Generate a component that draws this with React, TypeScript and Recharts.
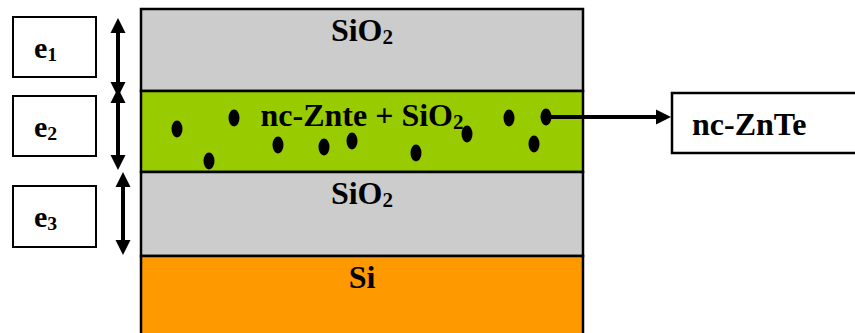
import { ComposedChart, XAxis, YAxis, ReferenceArea, ReferenceLine, Scatter } from 'recharts';

const W = 855;
const H = 333;

// layer stack, in diagram units (y grows downward, like the source figure)
const layerNames = ['SiO2', 'nc-Znte + SiO2', 'SiO2', 'Si'];
const layerTop = [9, 91, 172, 256];
const layerBottom = [91, 172, 256, 340];
const stackLeft = 141;
const stackRight = 583;

// thickness boxes e1..e3 on the left
const thickNames = ['e1', 'e2', 'e3'];
const thickTop = [17, 96, 186];
const thickBottom = [77, 156, 247];
const thickLeft = 13;
const thickRight = 96;

// double arrows next to the boxes
const arrowX = [118, 118, 123];
const arrowFrom = [18, 88, 172];
const arrowTo = [97, 170, 255];

// nanocrystals inside the green layer
const dotX = [177, 209, 234, 278, 324, 352, 416, 467, 509, 546, 534];
const dotY = [129, 161, 118, 145, 147, 141, 153, 134, 118, 117, 144];

// pointer to the nc-ZnTe label box (box runs off the right edge)
const pointerFrom = { x: 546, y: 117 };
const pointerTo = { x: 671, y: 117 };
const calloutName = 'nc-ZnTe';
const calloutBox = { x1: 672, x2: 862, y1: 93, y2: 153 };

const LAYER_COLORS = ['#cccccc', '#99cc00', '#cccccc', '#ff9900'];
const FONT = '"Liberation Serif", "Times New Roman", serif';

// renders "SiO2" style text with the digits as subscripts
function Formula({ x, y, text, size, anchor = 'middle' }: { x: number; y: number; text: string; size: number; anchor?: string }) {
  const parts = text.split(/(\d+)/).filter((s) => s.length > 0);
  let sub = false;
  return (
    <text x={x} y={y} textAnchor={anchor} style={{ fontFamily: FONT, fontWeight: 700, fontSize: size }} fill="#000">
      {parts.map((p, i) => {
        const isDigit = /^\d+$/.test(p);
        const dy = isDigit ? (sub ? 0 : 3) : sub ? -3 : 0;
        sub = isDigit;
        return (
          <tspan key={i} dy={dy} style={{ fontSize: isDigit ? size * 0.66 : size }}>
            {p}
          </tspan>
        );
      })}
    </text>
  );
}

function head(tx: number, ty: number, dx: number, dy: number, len = 15, half = 7.5) {
  const bx = tx - dx * len;
  const by = ty - dy * len;
  return `${tx},${ty} ${bx - dy * half},${by + dx * half} ${bx + dy * half},${by - dx * half}`;
}

function Arrow(props: any, both: boolean) {
  const { x1, y1, x2, y2 } = props;
  const L = Math.hypot(x2 - x1, y2 - y1) || 1;
  const dx = (x2 - x1) / L;
  const dy = (y2 - y1) / L;
  const sx = both ? x1 + dx * 12 : x1;
  const sy = both ? y1 + dy * 12 : y1;
  return (
    <g>
      <line x1={sx} y1={sy} x2={x2 - dx * 12} y2={y2 - dy * 12} stroke="#000" strokeWidth={4} />
      <polygon points={head(x2, y2, dx, dy)} fill="#000" />
      {both && <polygon points={head(x1, y1, -dx, -dy)} fill="#000" />}
    </g>
  );
}

const dots = dotX.map((x, i) => ({ x, y: dotY[i] }));

export default function App() {
  return (
    <div style={{ position: 'absolute', left: 0, top: 0, background: '#fff' }}>
      <ComposedChart width={W} height={H} margin={{ top: 0, right: 0, bottom: 0, left: 0 }}>
        <XAxis type="number" dataKey="x" domain={[0, W]} hide allowDataOverflow />
        <YAxis type="number" dataKey="y" domain={[0, H]} reversed hide allowDataOverflow />

        {layerNames.map((name, i) => (
          <ReferenceArea
            key={`layer-${i}`}
            x1={stackLeft}
            x2={stackRight}
            y1={layerTop[i]}
            y2={layerBottom[i]}
            ifOverflow="visible"
            fill={LAYER_COLORS[i]}
            fillOpacity={1}
            stroke="#000"
            strokeWidth={2.5}
            label={(p: any) => (
              <Formula
                x={p.viewBox.x + p.viewBox.width / 2}
                y={p.viewBox.y + (i === 1 ? 35 : 32)}
                text={name}
                size={32}
              />
            )}
          />
        ))}

        {thickNames.map((name, i) => (
          <ReferenceArea
            key={`thick-${i}`}
            x1={thickLeft}
            x2={thickRight}
            y1={thickTop[i]}
            y2={thickBottom[i]}
            ifOverflow="visible"
            fill="#fff"
            fillOpacity={1}
            stroke="#000"
            strokeWidth={2}
            label={(p: any) => (
              <Formula x={p.viewBox.x + 21} y={p.viewBox.y + 41} text={name} size={30} anchor="start" />
            )}
          />
        ))}

        {arrowX.map((x, i) => (
          <ReferenceLine
            key={`arrow-${i}`}
            segment={[
              { x, y: arrowFrom[i] },
              { x, y: arrowTo[i] },
            ]}
            ifOverflow="visible"
            shape={(p: any) => Arrow(p, true)}
          />
        ))}

        <ReferenceArea
          x1={calloutBox.x1}
          x2={calloutBox.x2}
          y1={calloutBox.y1}
          y2={calloutBox.y2}
          ifOverflow="visible"
          fill="#fff"
          fillOpacity={1}
          stroke="#000"
          strokeWidth={2.5}
          label={(p: any) => (
            <Formula x={p.viewBox.x + 20} y={p.viewBox.y + 42} text={calloutName} size={32} anchor="start" />
          )}
        />

        <ReferenceLine segment={[pointerFrom, pointerTo]} ifOverflow="visible" shape={(p: any) => Arrow(p, false)} />

        <Scatter
          data={dots}
          isAnimationActive={false}
          shape={(p: any) => <ellipse cx={p.cx} cy={p.cy} rx={5.5} ry={8.5} fill="#000" />}
        />
      </ComposedChart>
    </div>
  );
}
